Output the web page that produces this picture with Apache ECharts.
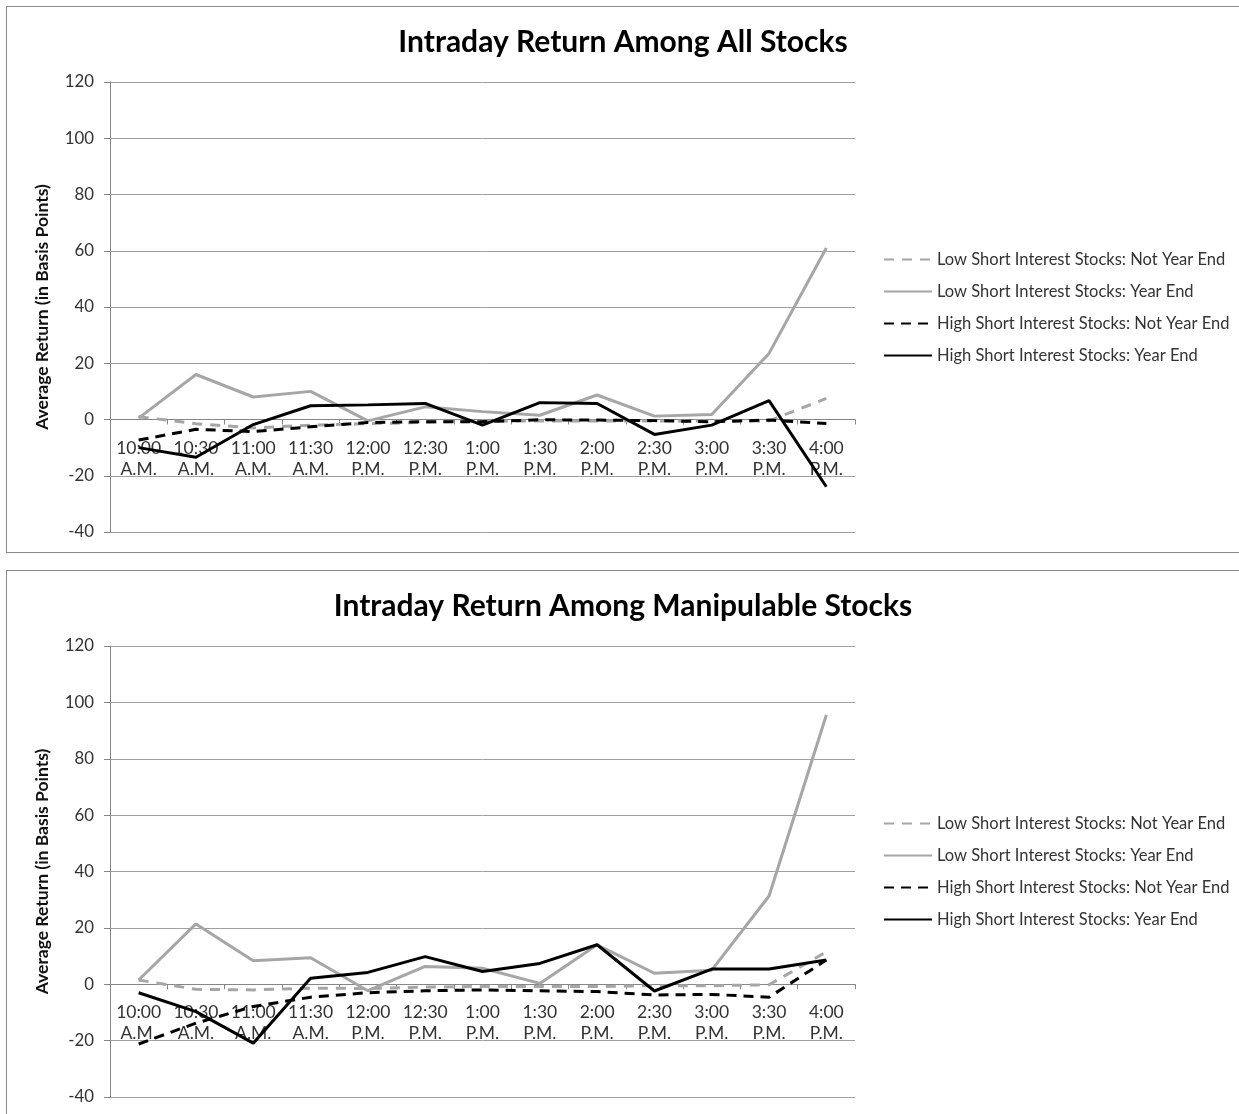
<!DOCTYPE html>
<html>
<head>
<meta charset="utf-8">
<script src="https://cdn.jsdelivr.net/npm/echarts@6.0.0/dist/echarts.min.js"></script>
<style>
  body { margin: 0; background: #fff; }
  .panel { position: absolute; left: 6px; width: 1232px; border: 1px solid #8a8a8a; background: #fff; }
  #top { top: 6px; height: 545px; }
  #bottom { top: 570px; height: 560px; }
</style>
</head>
<body>
<div id="top" class="panel"></div>
<div id="bottom" class="panel"></div>
<script>
// x 轴类别
const times = ['10:00\nA.M.', '10:30\nA.M.', '11:00\nA.M.', '11:30\nA.M.', '12:00\nP.M.', '12:30\nP.M.',
  '1:00\nP.M.', '1:30\nP.M.', '2:00\nP.M.', '2:30\nP.M.', '3:00\nP.M.', '3:30\nP.M.', '4:00\nP.M.'];
const seriesNames = [
  'Low Short Interest Stocks: Not Year End',
  'Low Short Interest Stocks: Year End',
  'High Short Interest Stocks: Not Year End',
  'High Short Interest Stocks: Year End'
];
const yTicks = { min: -40, max: 120, step: 20 };

// 上图：全部股票
const allLowNotYE = [1, -1.5, -3, -2, -1.5, -1, -0.5, -0.5, -0.5, -0.5, -0.5, -0.5, 7.5];
const allLowYE = [0.5, 16, 8, 10, -0.5, 4.5, 2.8, 1.5, 8.7, 1.2, 1.8, 23.5, 61];
const allHighNotYE = [-7.3, -3.5, -4.3, -2.6, -1.1, -0.8, -0.8, -0.1, -0.2, -0.4, -0.8, -0.2, -1.4];
const allHighYE = [-10, -13.4, -1.8, 4.9, 5.2, 5.7, -2, 6, 5.7, -5.3, -2, 6.7, -23.9];

// 下图：可操纵股票
const manLowNotYE = [1.5, -1.8, -2, -1.4, -1.5, -1, -0.8, -0.8, -0.8, -0.5, -0.5, -0.2, 11.5];
const manLowYE = [1.5, 21.4, 8.3, 9.4, -2.3, 6.3, 5.7, 0.3, 14, 3.9, 5, 31.3, 95.5];
const manHighNotYE = [-21.2, -13.8, -7.9, -4.6, -3, -2.3, -2, -2.3, -2.6, -3.8, -3.6, -4.6, 8.6];
const manHighYE = [-3, -9.7, -20.9, 2.1, 4.2, 9.8, 4.5, 7.4, 14, -2.4, 5.4, 5.4, 8.6];

const FONT = 'Lato, "Open Sans", sans-serif';
const lineStyles = [
  { color: '#a6a6a6', width: 3, type: [10, 8] },
  { color: '#a6a6a6', width: 3, type: 'solid' },
  { color: '#000000', width: 3, type: [10, 7] },
  { color: '#000000', width: 3, type: 'solid' }
];

function buildOption(title, dataSets, plotHeight) {
  // x 轴放在 0 的位置（Excel 风格）
  const zeroOffset = -(0 - yTicks.min) / (yTicks.max - yTicks.min) * plotHeight;
  return {
    animation: false,
    title: {
      text: title,
      left: 'center',
      top: 15,
      textStyle: { fontFamily: FONT, fontSize: 30, fontWeight: 'bold', color: '#000' }
    },
    grid: { left: 103, top: 75, width: 745, height: plotHeight, outerBoundsMode: 'none' },
    legend: {
      orient: 'vertical',
      left: 871,
      top: 239,
      itemWidth: 48,
      itemHeight: 14,
      itemGap: 15,
      data: seriesNames,
      itemStyle: { opacity: 0 },
      textStyle: { fontFamily: FONT, fontSize: 16.5, color: '#333' }
    },
    xAxis: {
      type: 'category',
      data: times,
      boundaryGap: true,
      offset: zeroOffset,
      axisLine: { onZero: false, lineStyle: { color: '#868686', width: 1 } },
      axisTick: { show: true, length: 5, lineStyle: { color: '#868686' } },
      axisLabel: { fontFamily: FONT, fontSize: 17.5, color: '#333', lineHeight: 21, margin: 18, interval: 0 }
    },
    yAxis: {
      type: 'value',
      min: yTicks.min,
      max: yTicks.max,
      interval: yTicks.step,
      name: 'Average Return (in Basis Points)',
      nameLocation: 'middle',
      nameGap: 59,
      nameTextStyle: { fontFamily: FONT, fontSize: 17.5, fontWeight: 'bold', color: '#111' },
      axisLine: { show: true, lineStyle: { color: '#868686' } },
      axisTick: { show: true, length: 6, lineStyle: { color: '#868686' } },
      axisLabel: { fontFamily: FONT, fontSize: 16.8, color: '#333', margin: 16 },
      splitLine: { show: true, lineStyle: { color: '#a0a0a0', width: 1 } }
    },
    series: dataSets.map((d, i) => ({
      name: seriesNames[i],
      type: 'line',
      data: d,
      symbol: 'none',
      itemStyle: { color: lineStyles[i].color },
      lineStyle: lineStyles[i]
    }))
  };
}

const topChart = echarts.init(document.getElementById('top'));
topChart.setOption(buildOption('Intraday Return Among All Stocks',
  [allLowNotYE, allLowYE, allHighNotYE, allHighYE], 450));

const bottomChart = echarts.init(document.getElementById('bottom'));
bottomChart.setOption(buildOption('Intraday Return Among Manipulable Stocks',
  [manLowNotYE, manLowYE, manHighNotYE, manHighYE], 451));
</script>
</body>
</html>
